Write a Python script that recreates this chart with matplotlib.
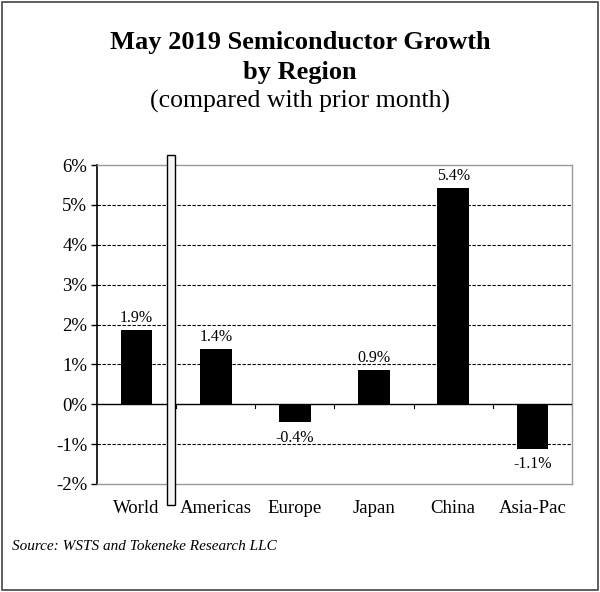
import matplotlib
matplotlib.use("Agg")
import matplotlib.pyplot as plt
from matplotlib.patches import Rectangle
import numpy as np

categories = ["World", "Americas", "Europe", "Japan", "China", "Asia-Pac"]
growth = [1.86, 1.38, -0.44, 0.86, 5.42, -1.11]
yticks = [-2, -1, 0, 1, 2, 3, 4, 5, 6]

plt.rcParams['font.family'] = ['Liberation Serif', 'DejaVu Serif']

fig = plt.figure(figsize=(6, 5.92), dpi=100)
ax = fig.add_axes([97/600, 1-484/592, 475/600, (484-165)/592])

x = np.arange(len(categories))
ax.bar(x, growth, width=0.4, color='black', zorder=3)

ax.set_xlim(-0.5, len(categories)-0.5)
ax.set_ylim(-2, 6)
ax.set_yticks(yticks)
ax.set_yticklabels([f"{t}%" for t in yticks], fontsize=13.5)
ax.tick_params(axis='y', direction='out', length=4, width=1, pad=3)

# grid lines
for t in yticks:
    if t in (-2, 0, 6):
        continue
    ax.axhline(t, color='black', lw=0.8, ls=(0, (3, 1.5)), zorder=1)
ax.axhline(0, color='black', lw=1.0, zorder=4)

ax.set_xticks([])
for b in np.arange(0.5, len(categories)-0.5+0.01, 1.0):
    ax.plot([b, b], [0, -0.1], color='black', lw=0.8, zorder=4)

for i, c in enumerate(categories):
    ax.text(i, -2.62, c, ha='center', va='center', fontsize=13.5)

for i, v in enumerate(growth):
    if v >= 0:
        ax.text(i, v + 0.1, f"{v:.1f}%", ha='center', va='bottom', fontsize=11.5)
    else:
        ax.text(i, v - 0.2, f"{v:.1f}%", ha='center', va='top', fontsize=11.5)

for s in ('top', 'right', 'bottom'):
    ax.spines[s].set_color('#999999')
    ax.spines[s].set_linewidth(1.0)
ax.spines['left'].set_color('black')
ax.spines['left'].set_linewidth(1.2)

# separator bar between World and regions
sep = Rectangle((0.38, -2.52), 0.1, 8.77, facecolor='#f4f4f4',
                edgecolor='black', lw=1.0, clip_on=False, zorder=5)
ax.add_patch(sep)

fig.text(0.5, 1-42/592, "May 2019 Semiconductor Growth", ha='center', va='center',
         fontsize=19, fontweight='bold')
fig.text(0.5, 1-73/592, "by Region", ha='center', va='center',
         fontsize=19, fontweight='bold')
fig.text(0.5, 1-101/592, "(compared with prior month)", ha='center', va='center',
         fontsize=18.5)
fig.text(12/600, 1-547/592, "Source: WSTS and Tokeneke Research LLC", ha='left',
         va='center', fontsize=11, style='italic')

fig.patches.append(Rectangle((2/600, 2/592), 596/600, 588/592, transform=fig.transFigure,
                             fill=False, edgecolor='#444444', lw=1.2))

fig.savefig("out.png", dpi=100)
